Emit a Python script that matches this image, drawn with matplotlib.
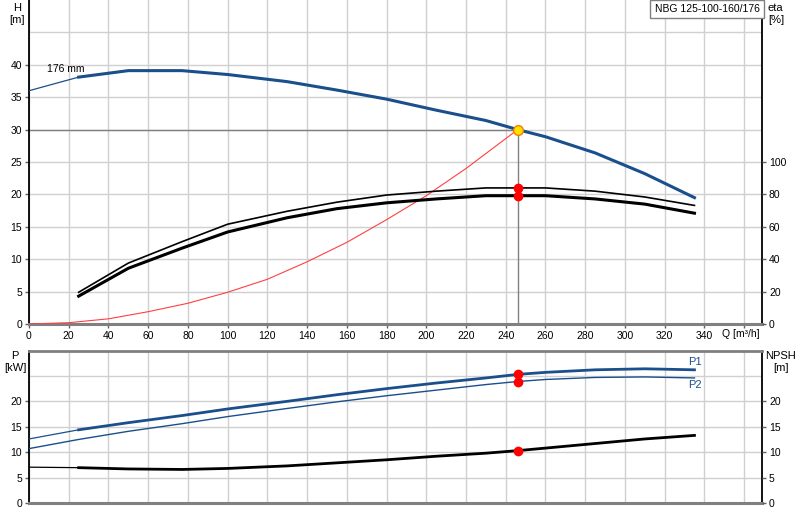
import numpy as np
import matplotlib
matplotlib.use("Agg")
import matplotlib.pyplot as plt

plt.rcParams['font.family'] = ['Liberation Sans', 'DejaVu Sans']
plt.rcParams['font.size'] = 7.5

# flow points [m3/h]
q = [0, 25, 50, 77, 100, 130, 155, 180, 205, 230, 246, 260, 285, 310, 335]
# head curve [m], first segment (0-25) drawn thin
head = [36.0, 38.1, 39.1, 39.1, 38.5, 37.4, 36.1, 34.7, 33.0, 31.4, 30.0, 28.9, 26.4, 23.2, 19.5]
# efficiencies [%] from q[1] on
eta_p = [19.6, 37.6, 50.8, 61.6, 69.6, 75.2, 79.6, 82.0, 84.0, 84.0, 84.0, 82.0, 78.4, 73.2]
eta_h = [17.2, 34.4, 46.8, 56.8, 65.6, 71.2, 74.8, 77.2, 79.2, 79.2, 79.2, 77.2, 74.0, 68.4]
# power [kW]
p1 = [12.6, 14.4, 15.8, 17.2, 18.5, 20.0, 21.3, 22.5, 23.6, 24.6, 25.3, 25.7, 26.2, 26.4, 26.2]
p2 = [10.7, 12.5, 14.1, 15.6, 17.0, 18.6, 19.9, 21.1, 22.2, 23.3, 23.9, 24.3, 24.7, 24.8, 24.6]
# NPSH [m]
npsh = [7.05, 6.95, 6.7, 6.6, 6.8, 7.3, 7.9, 8.5, 9.2, 9.8, 10.3, 10.8, 11.7, 12.6, 13.3]

# system curve
q_sys = [0, 20, 40, 60, 80, 100, 120, 140, 160, 180, 200, 220, 246]
h_sys = [0, 0.2, 0.8, 1.9, 3.2, 4.9, 6.9, 9.6, 12.6, 16.1, 19.8, 24.0, 30.0]

duty_q = 246
duty_h = 30.0
duty_eta = [84.0, 79.2]
duty_p = [25.3, 23.9]
duty_npsh = 10.3

BLUE = '#1a4f8c'
GRID = '#d0d0d0'

fig = plt.figure(figsize=(8, 5.2), dpi=100)

def px(x, y):
    return x / 800.0, 1 - y / 520.0

def frame(ax, top_col=None):
    ax.spines['left'].set_color('black')
    ax.spines['left'].set_linewidth(1.3)
    ax.spines['right'].set_color('black')
    ax.spines['right'].set_linewidth(1.3)
    ax.spines['bottom'].set_color('#808080')
    ax.spines['bottom'].set_linewidth(2.2)
    if top_col:
        ax.spines['top'].set_color(top_col)
        ax.spines['top'].set_linewidth(2)
    else:
        ax.spines['top'].set_visible(False)
    ax.grid(which='both', color=GRID, linewidth=1)
    ax.set_axisbelow(True)
    ax.tick_params(which='major', length=3, width=1, color='#606060', pad=2)
    ax.tick_params(which='minor', length=0)

# ---- top panel: H and eta ----
ax = fig.add_axes([29/800, 1-324/520, 733/800, 324/520])
ax.set_xlim(0, 369)
ax.set_ylim(0, 50)
ax.set_xticks(np.arange(0, 361, 20))
ax.set_xticklabels([str(v) for v in range(0, 341, 20)] + [''])
ax.set_yticks(np.arange(0, 41, 5))
ax.set_yticks([45], minor=True)
frame(ax)

ax.plot([0, duty_q], [duty_h, duty_h], color='#808080', lw=1, zorder=2)
ax.plot([duty_q, duty_q], [0, duty_h], color='#808080', lw=1, zorder=2)
ax.plot(q_sys, h_sys, color='#ff4040', lw=0.8, zorder=3)
ax.plot(q[:2], head[:2], color=BLUE, lw=0.9, zorder=4)
ax.plot(q[1:], head[1:], color=BLUE, lw=2.2, zorder=4)
ax.plot(duty_q, duty_h, 'o', ms=7, mfc='#ffe000', mec='#f08000', mew=1, zorder=6)

ax2 = ax.twinx()
ax2.set_ylim(0, 200)
ax2.set_yticks(np.arange(0, 101, 20))
ax2.tick_params(length=3, width=1, color='#606060', pad=2)
for s in ax2.spines.values():
    s.set_visible(False)
ax2.plot(q[1:], eta_p, color='black', lw=1.2, zorder=4)
ax2.plot(q[1:], eta_h, color='black', lw=2.2, zorder=4)
ax2.plot([duty_q] * 2, duty_eta, 'o', ms=6, color='#ff0000', zorder=6)

# ---- bottom panel: P and NPSH ----
bx = fig.add_axes([29/800, 1-503/520, 733/800, 152.5/520])
bx.set_xlim(0, 369)
bx.set_ylim(0, 30)
bx.set_xticks(np.arange(0, 361, 20))
bx.set_xticklabels([])
bx.set_yticks(np.arange(0, 21, 5))
bx.set_yticks([25], minor=True)
frame(bx, top_col='#808080')
bx.tick_params(axis='x', which='both', length=0)

bx.plot(q[:2], p1[:2], color=BLUE, lw=0.9, zorder=4)
bx.plot(q[1:], p1[1:], color=BLUE, lw=2.0, zorder=4)
bx.plot(q, p2, color=BLUE, lw=1.0, zorder=4)
bx.plot([duty_q] * 2, duty_p, 'o', ms=6, color='#ff0000', zorder=6)

bx2 = bx.twinx()
bx2.set_ylim(0, 30)
bx2.set_yticks(np.arange(0, 21, 5))
bx2.tick_params(length=3, width=1, color='#606060', pad=2)
for s in bx2.spines.values():
    s.set_visible(False)
bx2.plot(q[:2], npsh[:2], color='black', lw=0.9, zorder=4)
bx2.plot(q[1:], npsh[1:], color='black', lw=2.0, zorder=4)
bx2.plot(duty_q, duty_npsh, 'o', ms=6, color='#ff0000', zorder=6)

# ---- texts ----
fig.text(*px(17, 14), 'H\n[m]', ha='center', va='center', fontsize=8, linespacing=1.15)
fig.text(*px(768, 14), 'eta\n[%]', ha='left', va='center', fontsize=8, linespacing=1.15)
fig.text(*px(15, 362), 'P\n[kW]', ha='center', va='center', fontsize=8, linespacing=1.15)
fig.text(*px(781, 362), 'NPSH\n[m]', ha='center', va='center', fontsize=8, linespacing=1.15)
fig.text(*px(722, 334), 'Q [m³/h]', ha='left', va='center', fontsize=7.5)
fig.text(*px(47, 69), '176 mm', ha='left', va='center', fontsize=7.5)
fig.text(*px(688, 362), 'P1', ha='left', va='center', fontsize=8, color=BLUE)
fig.text(*px(688, 385), 'P2', ha='left', va='center', fontsize=8, color=BLUE)
fig.text(*px(707, 9), 'NBG 125-100-160/176', ha='center', va='center', fontsize=7.5,
         bbox=dict(facecolor='white', edgecolor='#808080', boxstyle='square,pad=0.4', lw=1))

fig.savefig('out.png', dpi=100)
